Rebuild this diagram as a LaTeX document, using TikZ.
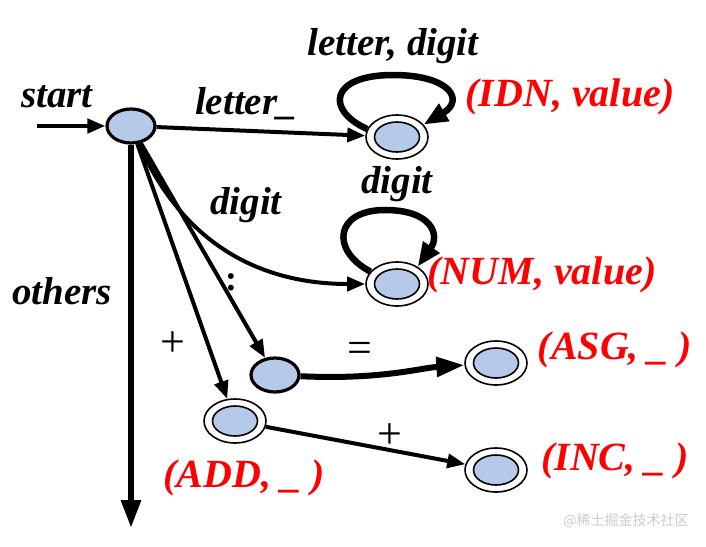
\documentclass[tikz,border=0pt]{standalone}
\usepackage{fontspec}
\setmainfont{Liberation Serif}
\newfontfamily\cjk{Noto Sans CJK SC}
\usetikzlibrary{arrows.meta,shapes.geometric}
\definecolor{stfill}{RGB}{183,201,232}
\definecolor{lblred}{RGB}{255,0,0}
\begin{document}
\begin{tikzpicture}[x=1pt,y=-1pt,
  st/.style={ellipse,draw=black,line width=3.2pt,fill=stfill,minimum width=48pt,minimum height=34pt,inner sep=0pt},
  acc/.style={ellipse,draw=black,line width=1.6pt,fill=white,minimum width=62pt,minimum height=44pt,inner sep=0pt},
  accin/.style={ellipse,draw=black,line width=1.6pt,fill=stfill,minimum width=45pt,minimum height=30pt,inner sep=0pt},
  edge/.style={line width=4pt,-{Triangle[length=18pt,width=14pt]}},
  bigedge/.style={line width=6pt,-{Triangle[length=28pt,width=19pt]}},
  loopedge/.style={line width=6.5pt,-{Triangle[length=24pt,width=19pt]}},
  lbl/.style={font=\fontsize{39}{39}\selectfont\bfseries\itshape,inner sep=0pt},
  outlbl/.style={font=\fontsize{40}{40}\selectfont\bfseries\itshape,text=lblred,inner sep=0pt},
  sym/.style={font=\fontsize{44}{44}\selectfont,inner sep=0pt},
  colsym/.style={font=\fontsize{36}{36}\selectfont\bfseries,inner sep=0pt}]
\useasboundingbox (0,0) rectangle (706,546);
% states
\node[st] (s0) at (131,126) {};
\node[acc] (idn) at (397,137) {};
\node[accin] (idnI) at (idn.center) {};
\node[acc] (num) at (397,284) {};
\node[accin] (numI) at (num.center) {};
\node[st] (col) at (275,375) {};
\node[acc] (asg) at (496,363) {};
\node[accin] (asgI) at (asg.center) {};
\node[acc] (add) at (235,421) {};
\node[accin] (addI) at (add.center) {};
\node[acc] (inc) at (496,470) {};
\node[accin] (incI) at (inc.center) {};
\coordinate (init) at (37,126);
\coordinate (othersend) at (131,528);
% edges
\draw[edge,line width=4.5pt] (init) -- (s0);
\draw[edge] (s0) -- (idn);
\draw[edge] (s0) .. controls (190,260) and (280,284) .. (num);
\draw[edge] (s0) -- (col);
\draw[edge] (s0) -- (add);
\draw[bigedge] (s0) -- (othersend);
\draw[bigedge] (col) .. controls (380,380) and (420,368) .. (asg);
\draw[edge] (add) -- (inc);
\draw[loopedge] (idn.165) .. controls (325,110) and (330,75) .. (393,75)
  .. controls (450,75) and (465,100) .. (idn.25);
\draw[loopedge] (num.155) .. controls (330,250) and (335,210) .. (385,210)
  .. controls (432,210) and (440,235) .. (num.40);
% labels
\node[lbl] at (57,97) {start};
\node[lbl] at (246,104) {letter\_};
\node[lbl] at (393,46) {letter, digit};
\node[outlbl] at (570,97) {(IDN, value)};
\node[lbl] at (397,184) {digit};
\node[outlbl] at (542,275) {(NUM, value)};
\node[lbl] at (246,205) {digit};
\node[lbl] at (62,291) {others};
\node[colsym] at (231,282) {:};
\node[sym] at (173,344) {+};
\node[sym] at (360,352) {=};
\node[sym] at (390,436) {+};
\node[outlbl] at (615,350) {(ASG, \_ )};
\node[outlbl] at (615,461) {(INC, \_ )};
\node[outlbl] at (244,478) {(ADD, \_ )};
\node[font=\cjk\fontsize{14}{14}\selectfont,text=black!20,inner sep=0pt] (wm) at (626,521) {@稀土掘金技术社区};
\end{tikzpicture}
\end{document}
